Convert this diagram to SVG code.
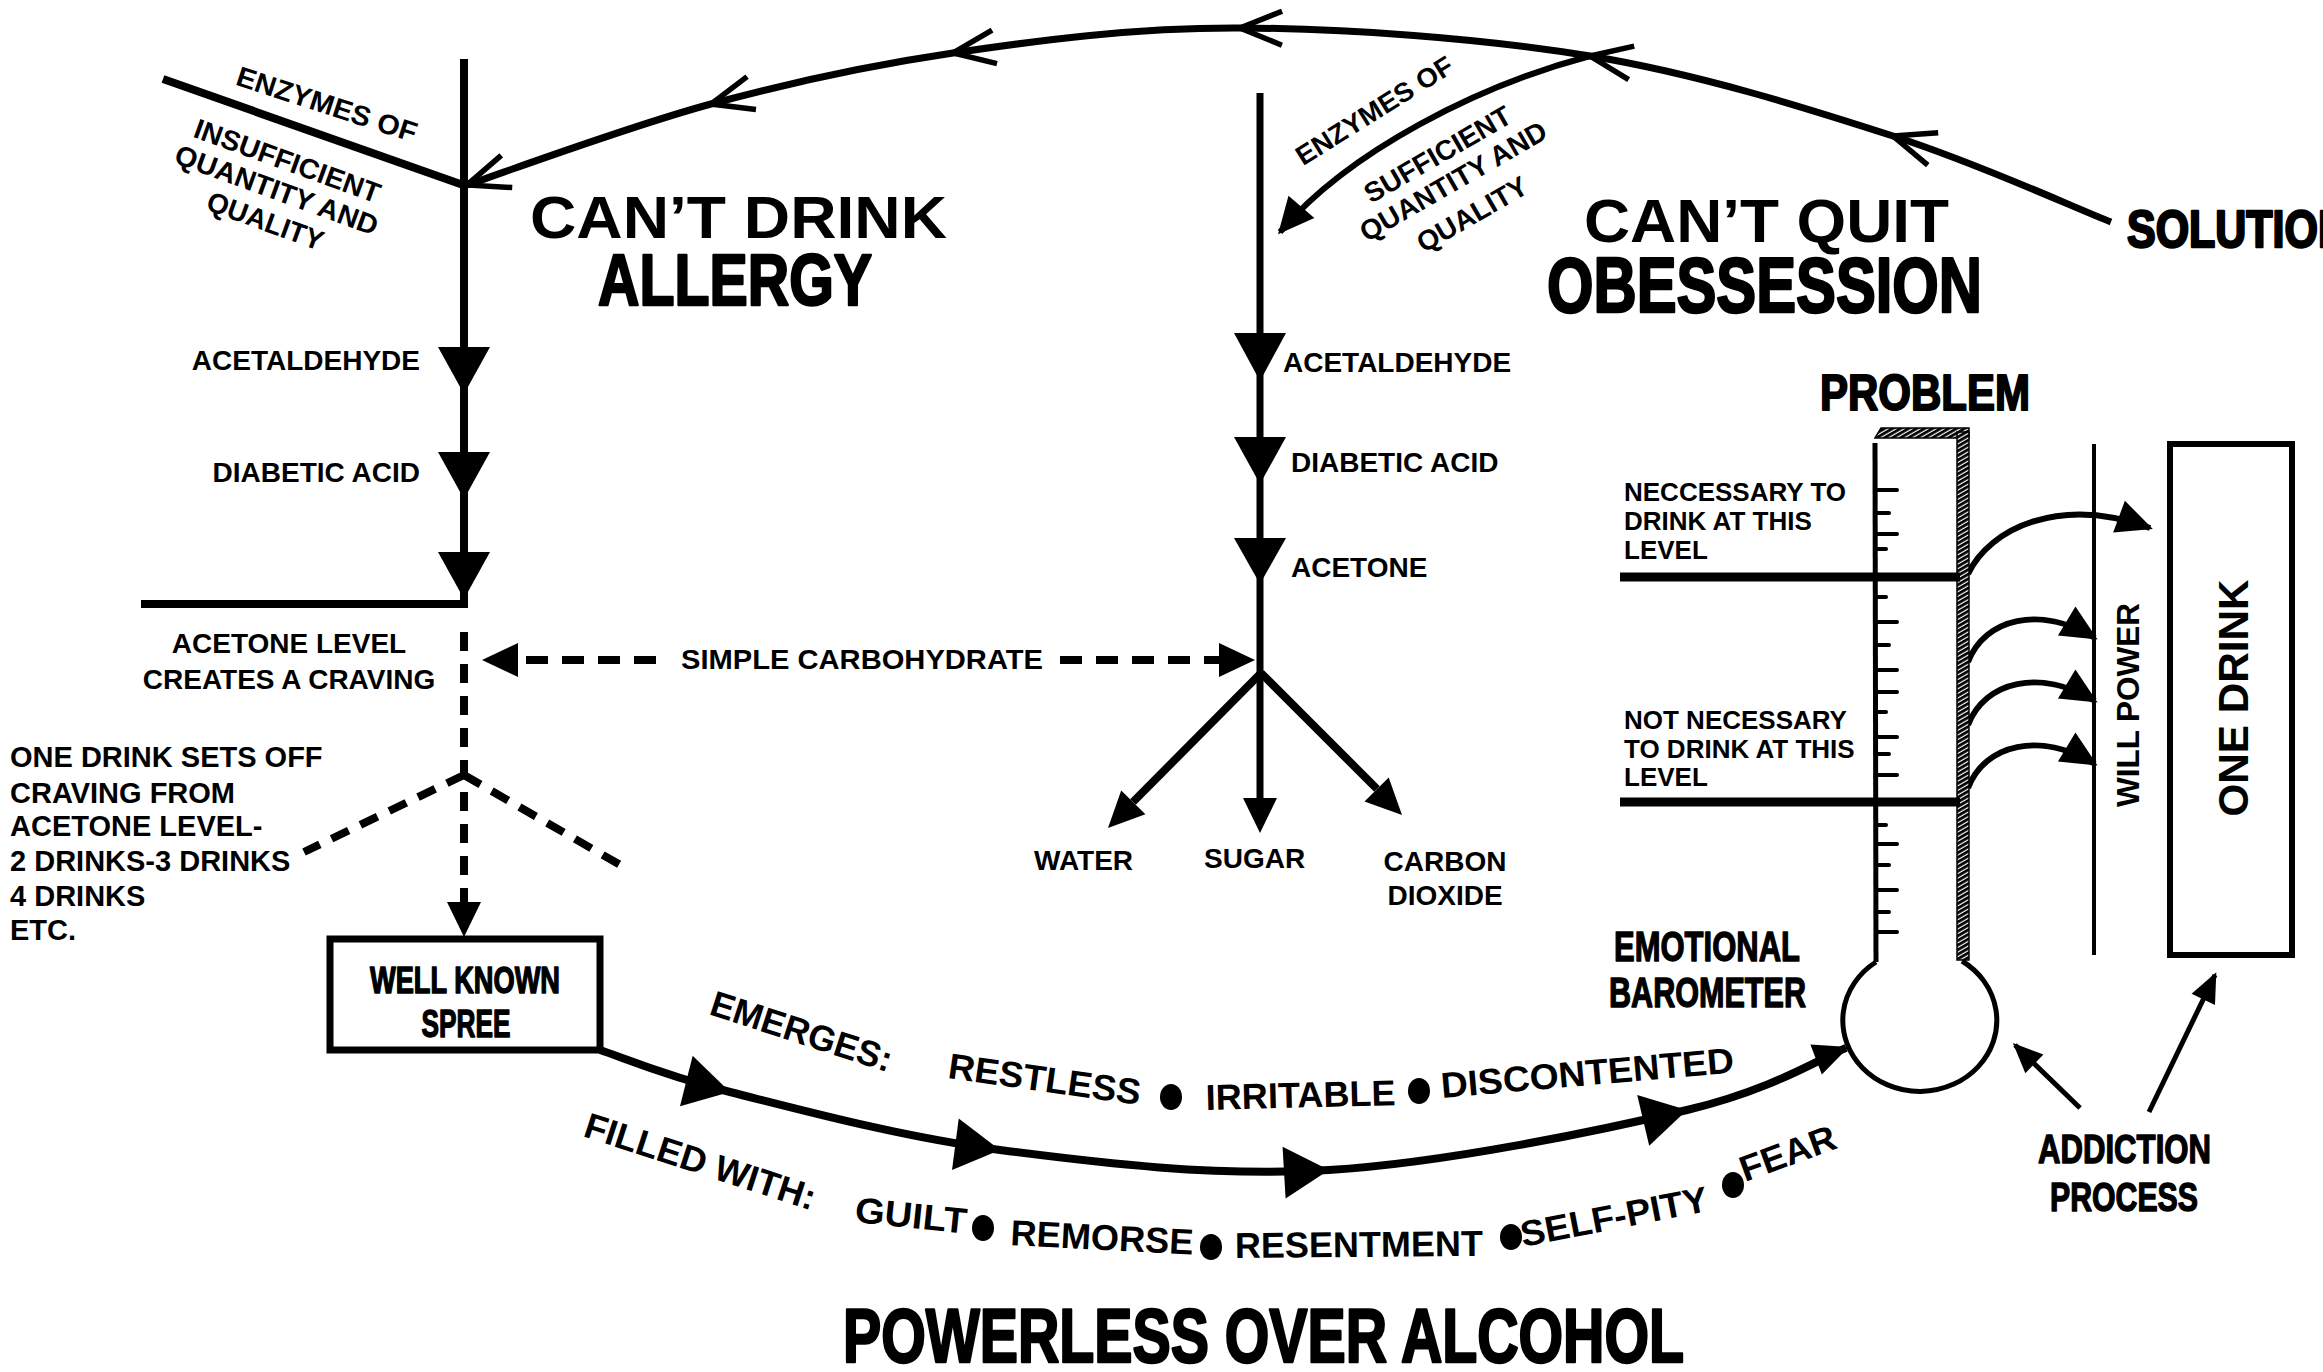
<svg xmlns="http://www.w3.org/2000/svg" width="2323" height="1372" viewBox="0 0 2323 1372">
<style>
.lbl{font-family:"Liberation Sans",Arial,Helvetica,sans-serif;font-weight:bold;fill:#000}
.hv{font-family:"Liberation Sans Narrow","Liberation Sans",Arial,sans-serif;font-weight:bold;fill:#000;stroke:#000;stroke-width:2.5;stroke-linejoin:round}
.hvs{font-family:"Liberation Sans Narrow","Liberation Sans",Arial,sans-serif;font-weight:bold;fill:#000;stroke:#000;stroke-width:1.4;stroke-linejoin:round}
.ln{fill:none;stroke:#000;stroke-linecap:butt}
.dash{fill:none;stroke:#000;stroke-width:8;stroke-dasharray:19 13}
.tk{stroke:#000;stroke-width:4;stroke-linecap:round}
</style>
<defs>
<marker id="chev" markerUnits="userSpaceOnUse" orient="auto" refX="0" refY="0" markerWidth="1" markerHeight="1" overflow="visible">
<path d="M-42,-17 L0,0 L-42,17" fill="none" stroke="#000" stroke-width="5.5"/>
</marker>
<marker id="tri" markerUnits="userSpaceOnUse" orient="auto" refX="0" refY="0" markerWidth="1" markerHeight="1" overflow="visible">
<polygon points="0,0 -45,-26 -45,26" fill="#000"/>
</marker>
<marker id="ah" markerUnits="userSpaceOnUse" orient="auto" refX="0" refY="0" markerWidth="1" markerHeight="1" overflow="visible">
<polygon points="3,0 -33,-17 -33,17" fill="#000"/>
</marker>
<marker id="ahb" markerUnits="userSpaceOnUse" orient="auto" refX="0" refY="0" markerWidth="1" markerHeight="1" overflow="visible">
<polygon points="3,0 -32,-16 -32,16" fill="#000"/>
</marker>
<marker id="ahs" markerUnits="userSpaceOnUse" orient="auto" refX="0" refY="0" markerWidth="1" markerHeight="1" overflow="visible">
<polygon points="3,0 -27,-13 -27,13" fill="#000"/>
</marker>
<pattern id="hatch" width="4" height="4" patternUnits="userSpaceOnUse" patternTransform="rotate(60)">
<rect width="4" height="4" fill="#fff"/>
<rect width="2.8" height="4" fill="#000"/>
</pattern>
</defs>
<rect width="2323" height="1372" fill="#fff"/>

<g id="connectors">
<path class="ln" stroke-width="7" marker-mid="url(#chev)" marker-end="url(#chev)" d="M2111,222 C2075,208 1980,164 1893,136 C1806,108 1699,74 1590,56 C1481,38 1346,28.5 1240,28 C1134,27.5 1041,40 953,53 C865,66 792,82 711,104 C630,126 508,171 467,185"/>
<path class="ln" stroke-width="6" marker-end="url(#ah)" d="M1590,56 C1480,85 1350,150 1280,232"/>
<line class="ln" stroke-width="8" x1="163" y1="79" x2="466" y2="186"/>
<polyline class="ln" stroke-width="8" stroke-linejoin="miter" points="464,59 464,604 141,604"/>
<polygon points="438,347 490,347 464,394" fill="#000"/>
<polygon points="438,452 490,452 464,499" fill="#000"/>
<polygon points="438,552 490,552 464,599" fill="#000"/>
<line class="ln" stroke-width="7" x1="1260" y1="93" x2="1260" y2="800"/>
<polygon points="1234,333 1286,333 1260,381" fill="#000"/>
<polygon points="1234,437 1286,437 1260,484" fill="#000"/>
<polygon points="1234,538 1286,538 1260,584" fill="#000"/>
<polygon points="1243,798 1277,798 1260,833" fill="#000"/>
<line class="ln" stroke-width="8" x1="1261" y1="673" x2="1133" y2="802"/>
<polygon points="1108,828 1145.4,814.3 1121.2,790.5" fill="#000"/>
<line class="ln" stroke-width="8" x1="1261" y1="673" x2="1377" y2="789"/>
<polygon points="1402,815 1364.5,801.4 1388.7,777.4" fill="#000"/>
<line class="dash" x1="464" y1="632" x2="464" y2="904"/>
<polygon points="447,902 481,902 464,937" fill="#000"/>
<line class="dash" x1="464" y1="775" x2="304" y2="852"/>
<line class="dash" x1="464" y1="775" x2="622" y2="866"/>
<line class="dash" style="stroke-dasharray:22 14" x1="656" y1="660" x2="516" y2="660"/>
<polygon points="482,660 518,643 518,677" fill="#000"/>
<line class="dash" style="stroke-dasharray:22 14" x1="1060" y1="660" x2="1222" y2="660"/>
<polygon points="1255,660 1219,643 1219,677" fill="#000"/>
<path class="ln" stroke-width="8" marker-mid="url(#tri)" marker-end="url(#ahb)" d="M600,1050 C621.7,1057 663.3,1075.3 730,1092 C796.7,1108.7 900.2,1137 1000,1150 C1099.8,1163 1214.5,1176.7 1329,1170 C1443.5,1163.3 1600.5,1130.5 1687,1110 C1773.5,1089.5 1821.2,1057.5 1846,1048"/>
<path class="ln" stroke-width="6" marker-end="url(#ah)" d="M1968,574 C1990,528 2060,495 2150,528"/>
<path class="ln" stroke-width="6" marker-end="url(#ah)" d="M1968,662 C1985,618 2040,605 2095,638"/>
<path class="ln" stroke-width="6" marker-end="url(#ah)" d="M1968,725 C1985,681 2040,668 2095,701"/>
<path class="ln" stroke-width="6" marker-end="url(#ah)" d="M1968,788 C1985,744 2040,731 2095,764"/>
<line class="ln" stroke-width="5" marker-end="url(#ahs)" x1="2080" y1="1108" x2="2015" y2="1045"/>
<line class="ln" stroke-width="5" marker-end="url(#ahs)" x1="2149" y1="1112" x2="2215" y2="975"/>
</g>

<g id="enzymes-insufficient">
<text class="lbl" font-size="28" text-anchor="middle" textLength="188" lengthAdjust="spacingAndGlyphs" transform="translate(327,104) rotate(18)" y="10">ENZYMES OF</text>
<g transform="translate(284,170) rotate(20)">
<text class="lbl" font-size="28" text-anchor="middle" textLength="196" lengthAdjust="spacingAndGlyphs" x="0" y="0">INSUFFICIENT</text>
<text class="lbl" font-size="28" text-anchor="middle" textLength="214" lengthAdjust="spacingAndGlyphs" x="0" y="31">QUANTITY AND</text>
<text class="lbl" font-size="28" text-anchor="middle" textLength="122" lengthAdjust="spacingAndGlyphs" x="0" y="64">QUALITY</text>
</g>
</g>

<g id="enzymes-sufficient">
<text class="lbl" font-size="27" text-anchor="middle" textLength="180" lengthAdjust="spacingAndGlyphs" transform="translate(1374,110) rotate(-32)" y="10">ENZYMES OF</text>
<g transform="translate(1453,181) rotate(-30)">
<text class="lbl" font-size="28" text-anchor="middle" textLength="165" lengthAdjust="spacingAndGlyphs" x="0" y="-21">SUFFICIENT</text>
<text class="lbl" font-size="28" text-anchor="middle" textLength="211" lengthAdjust="spacingAndGlyphs" x="0" y="10">QUANTITY AND</text>
<text class="lbl" font-size="28" text-anchor="middle" textLength="123" lengthAdjust="spacingAndGlyphs" x="0" y="48">QUALITY</text>
</g>
</g>

<g id="allergy-title">
<text class="lbl" font-size="60" x="530" y="238" textLength="417" lengthAdjust="spacingAndGlyphs">CAN’T DRINK</text>
<text class="hv" font-size="73" x="598" y="305" textLength="274" lengthAdjust="spacingAndGlyphs">ALLERGY</text>
</g>

<g id="obsession-title">
<text class="lbl" font-size="62" x="1584" y="242" textLength="365" lengthAdjust="spacingAndGlyphs">CAN’T QUIT</text>
<text class="hv" font-size="77" x="1547" y="312" textLength="435" lengthAdjust="spacingAndGlyphs">OBESSESSION</text>
</g>

<g id="solution">
<text class="hv" font-size="52" x="2127" y="247" textLength="222" lengthAdjust="spacingAndGlyphs">SOLUTION</text>
</g>

<g id="allergy-pathway">
<text class="lbl" font-size="28" x="420" y="370" text-anchor="end">ACETALDEHYDE</text>
<text class="lbl" font-size="28" x="420" y="482" text-anchor="end">DIABETIC ACID</text>
<text class="lbl" font-size="28" x="289" y="653" text-anchor="middle">ACETONE LEVEL</text>
<text class="lbl" font-size="28" x="289" y="689" text-anchor="middle">CREATES A CRAVING</text>
</g>

<g id="one-drink-note">
<text class="lbl" font-size="29" x="10" y="767">ONE DRINK SETS OFF</text>
<text class="lbl" font-size="29" x="10" y="803">CRAVING FROM</text>
<text class="lbl" font-size="29" x="10" y="836">ACETONE LEVEL-</text>
<text class="lbl" font-size="29" x="10" y="871">2 DRINKS-3 DRINKS</text>
<text class="lbl" font-size="29" x="10" y="906">4 DRINKS</text>
<text class="lbl" font-size="29" x="10" y="940">ETC.</text>
</g>

<g id="simple-carbohydrate">
<text class="lbl" font-size="28" x="681" y="669" textLength="362" lengthAdjust="spacingAndGlyphs">SIMPLE CARBOHYDRATE</text>
</g>

<g id="normal-pathway">
<text class="lbl" font-size="28" x="1283" y="372">ACETALDEHYDE</text>
<text class="lbl" font-size="28" x="1291" y="472">DIABETIC ACID</text>
<text class="lbl" font-size="28" x="1291" y="577">ACETONE</text>
<text class="lbl" font-size="28" x="1034" y="870">WATER</text>
<text class="lbl" font-size="28" x="1204" y="868">SUGAR</text>
<text class="lbl" font-size="28" x="1445" y="871" text-anchor="middle">CARBON</text>
<text class="lbl" font-size="28" x="1445" y="905" text-anchor="middle">DIOXIDE</text>
</g>

<g id="well-known-spree">
<rect x="330" y="939" width="270" height="111" fill="#fff" stroke="#000" stroke-width="7"/>
<text class="hvs" font-size="36" x="465" y="993" text-anchor="middle" textLength="190" lengthAdjust="spacingAndGlyphs">WELL KNOWN</text>
<text class="hvs" font-size="38" x="466" y="1037" text-anchor="middle" textLength="89" lengthAdjust="spacingAndGlyphs">SPREE</text>
</g>

<g id="emerges">
<text class="lbl" font-size="36" textLength="189" lengthAdjust="spacingAndGlyphs" transform="translate(708,1014) rotate(18)">EMERGES:</text>
<text class="lbl" font-size="36" textLength="194" lengthAdjust="spacingAndGlyphs" transform="translate(947,1078) rotate(8)">RESTLESS</text>
<ellipse cx="1171" cy="1097" rx="11" ry="13"/>
<text class="lbl" font-size="36" textLength="190" lengthAdjust="spacingAndGlyphs" transform="translate(1206,1110) rotate(-1.5)">IRRITABLE</text>
<ellipse cx="1419" cy="1091" rx="11" ry="13"/>
<text class="lbl" font-size="36" textLength="294" lengthAdjust="spacingAndGlyphs" transform="translate(1442,1098) rotate(-5)">DISCONTENTED</text>
</g>

<g id="filled-with">
<text class="lbl" font-size="36" textLength="241" lengthAdjust="spacingAndGlyphs" transform="translate(582,1136) rotate(18)">FILLED WITH:</text>
<text class="lbl" font-size="36" textLength="112" lengthAdjust="spacingAndGlyphs" transform="translate(854,1222) rotate(6)">GUILT</text>
<ellipse cx="983" cy="1228" rx="11" ry="13"/>
<text class="lbl" font-size="36" textLength="183" lengthAdjust="spacingAndGlyphs" transform="translate(1010,1245) rotate(3)">REMORSE</text>
<ellipse cx="1211" cy="1247" rx="11" ry="13"/>
<text class="lbl" font-size="36" textLength="248" lengthAdjust="spacingAndGlyphs" transform="translate(1235,1258) rotate(-0.5)">RESENTMENT</text>
<ellipse cx="1511" cy="1237" rx="11" ry="13"/>
<text class="lbl" font-size="36" textLength="190" lengthAdjust="spacingAndGlyphs" transform="translate(1523,1247) rotate(-11)">SELF-PITY</text>
<ellipse cx="1733" cy="1185" rx="11" ry="13"/>
<text class="lbl" font-size="36" textLength="100" lengthAdjust="spacingAndGlyphs" transform="translate(1745,1182) rotate(-20)">FEAR</text>
</g>

<g id="problem">
<text class="hv" font-size="50" x="1820" y="410" textLength="210" lengthAdjust="spacingAndGlyphs" style="stroke-width:2">PROBLEM</text>
</g>

<g id="barometer">
<polygon points="1875,438 1881,428 1969,428 1969,438" fill="url(#hatch)" stroke="#000" stroke-width="1.5"/>
<rect x="1957" y="432" width="12" height="528" fill="url(#hatch)" stroke="#000" stroke-width="1.5"/>
<line class="ln" stroke-width="5" x1="1875" y1="443" x2="1876" y2="962"/>
<path class="ln" stroke-width="5" d="M1876,962 A77,71 0 1 0 1962,961"/>
<line class="tk" x1="1876" y1="490" x2="1897" y2="490"/>
<line class="tk" x1="1876" y1="513" x2="1889" y2="513"/>
<line class="tk" x1="1876" y1="534" x2="1897" y2="534"/>
<line class="tk" x1="1876" y1="549" x2="1886" y2="549"/>
<line class="tk" x1="1876" y1="597" x2="1886" y2="597"/>
<line class="tk" x1="1876" y1="622" x2="1897" y2="622"/>
<line class="tk" x1="1876" y1="645" x2="1889" y2="645"/>
<line class="tk" x1="1876" y1="670" x2="1897" y2="670"/>
<line class="tk" x1="1876" y1="692" x2="1897" y2="692"/>
<line class="tk" x1="1876" y1="712" x2="1886" y2="712"/>
<line class="tk" x1="1876" y1="737" x2="1897" y2="737"/>
<line class="tk" x1="1876" y1="754" x2="1889" y2="754"/>
<line class="tk" x1="1876" y1="775" x2="1897" y2="775"/>
<line class="tk" x1="1876" y1="825" x2="1886" y2="825"/>
<line class="tk" x1="1876" y1="844" x2="1897" y2="844"/>
<line class="tk" x1="1876" y1="865" x2="1889" y2="865"/>
<line class="tk" x1="1876" y1="890" x2="1897" y2="890"/>
<line class="tk" x1="1876" y1="912" x2="1889" y2="912"/>
<line class="tk" x1="1876" y1="932" x2="1897" y2="932"/>
<line class="ln" stroke-width="9" x1="1620" y1="577" x2="1960" y2="577"/>
<line class="ln" stroke-width="9" x1="1620" y1="802" x2="1960" y2="802"/>
<text class="lbl" font-size="26" x="1624" y="501">NECCESSARY TO</text>
<text class="lbl" font-size="26" x="1624" y="530">DRINK AT THIS</text>
<text class="lbl" font-size="26" x="1624" y="559">LEVEL</text>
<text class="lbl" font-size="26" x="1624" y="729">NOT NECESSARY</text>
<text class="lbl" font-size="26" x="1624" y="758">TO DRINK AT THIS</text>
<text class="lbl" font-size="26" x="1624" y="786">LEVEL</text>
<text class="hvs" font-size="43" x="1614" y="961" textLength="186" lengthAdjust="spacingAndGlyphs">EMOTIONAL</text>
<text class="hvs" font-size="43" x="1609" y="1007" textLength="197" lengthAdjust="spacingAndGlyphs">BAROMETER</text>
</g>

<g id="will-power">
<line class="ln" stroke-width="4" x1="2094" y1="444" x2="2094" y2="955"/>
<text class="lbl" font-size="31" text-anchor="middle" textLength="204" lengthAdjust="spacingAndGlyphs" transform="translate(2139,705) rotate(-90)">WILL POWER</text>
</g>

<g id="one-drink">
<rect x="2170" y="444" width="122" height="511" fill="none" stroke="#000" stroke-width="6"/>
<text class="lbl" font-size="42" text-anchor="middle" textLength="237" lengthAdjust="spacingAndGlyphs" transform="translate(2248,698) rotate(-90)">ONE DRINK</text>
</g>

<g id="addiction-process">
<text class="hvs" font-size="40" x="2038" y="1163" textLength="173" lengthAdjust="spacingAndGlyphs">ADDICTION</text>
<text class="hvs" font-size="40" x="2050" y="1211" textLength="148" lengthAdjust="spacingAndGlyphs">PROCESS</text>
</g>

<g id="powerless">
<text class="hv" font-size="76" x="843" y="1362" textLength="841" lengthAdjust="spacingAndGlyphs">POWERLESS OVER ALCOHOL</text>
</g>
</svg>
